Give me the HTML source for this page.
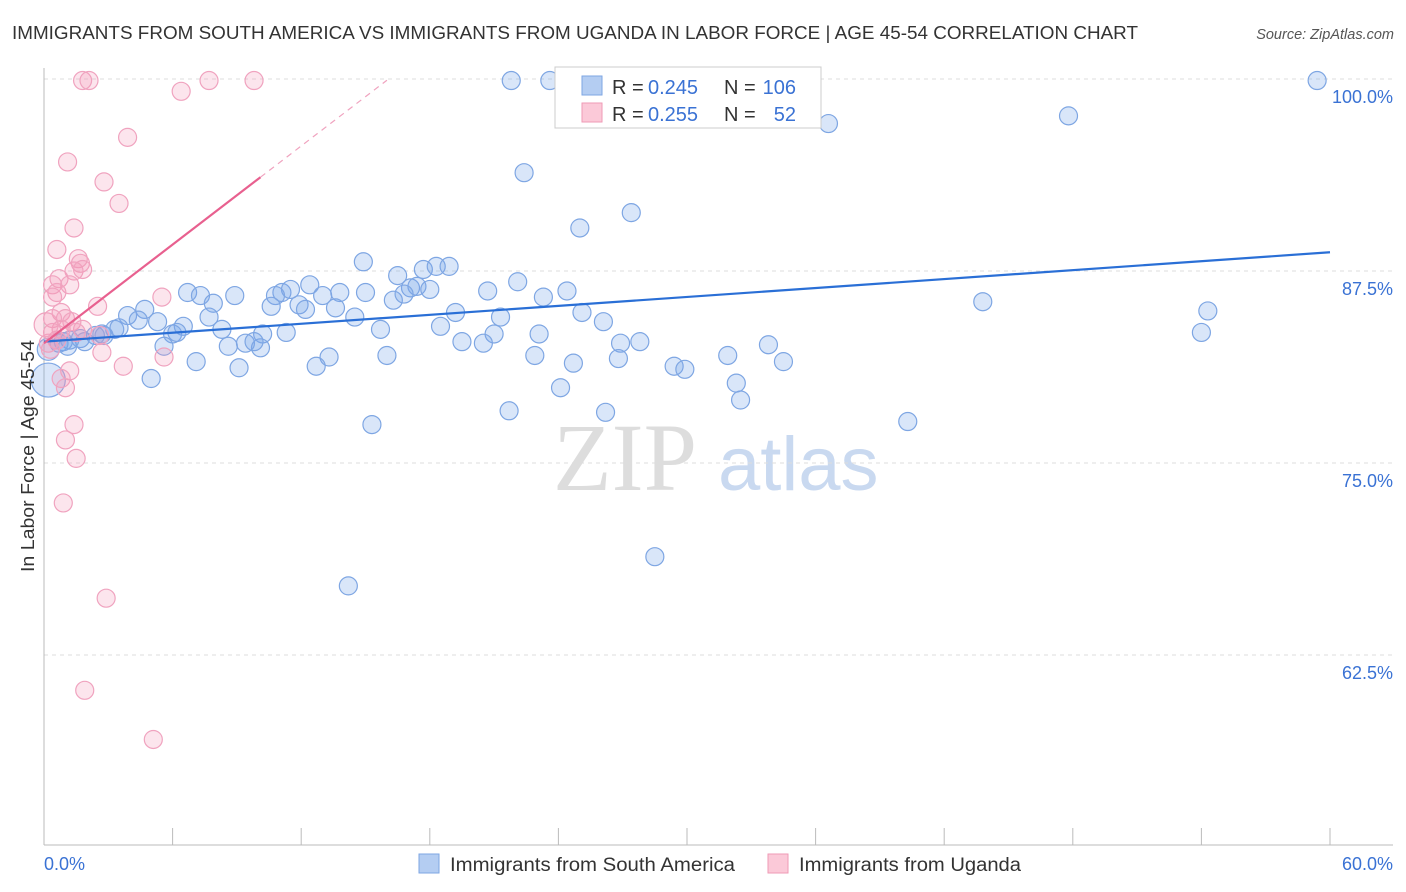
<!DOCTYPE html>
<html><head><meta charset="utf-8"><style>
body{margin:0;background:#fff;font-family:"Liberation Sans",sans-serif;}
svg{display:block}
</style></head><body>
<svg id="chart" width="1406" height="892" xmlns="http://www.w3.org/2000/svg">
<text x="12" y="39" font-size="18" fill="#333" textLength="1126" lengthAdjust="spacingAndGlyphs">IMMIGRANTS FROM SOUTH AMERICA VS IMMIGRANTS FROM UGANDA IN LABOR FORCE | AGE 45-54 CORRELATION CHART</text>
<text x="1394" y="39" font-size="14.5" font-style="italic" fill="#555" text-anchor="end">Source: ZipAtlas.com</text>
<g>
<text x="553" y="490" font-size="96" font-family="Liberation Serif, serif" fill="#ddd">ZIP</text>
<text x="718" y="490" font-size="76" fill="#c9d9f0">atlas</text>
</g>
<g id="grid"></g>
<g id="axes"></g>
<g id="marks"></g>
<text transform="translate(34,456) rotate(-90)" font-size="18" fill="#333" text-anchor="middle" textLength="232" lengthAdjust="spacingAndGlyphs">In Labor Force | Age 45-54</text>
<g>
<rect x="555" y="67" width="266" height="61" fill="#fff" stroke="#ccc"/>
<g>
<rect x="582" y="76" width="20" height="19" fill="#b4cdf2" stroke="#7ea6e3"/>
<text x="612" y="94" font-size="20" fill="#333">R =</text>
<text x="648" y="94" font-size="20" fill="#3a72d4">0.245</text>
<text x="724" y="94" font-size="20" fill="#333">N =</text>
<text x="796" y="94" font-size="20" fill="#3a72d4" text-anchor="end">106</text>
</g>
<g>
<rect x="582" y="103" width="20" height="19" fill="#fbc9d8" stroke="#ef9ab6"/>
<text x="612" y="121" font-size="20" fill="#333">R =</text>
<text x="648" y="121" font-size="20" fill="#3a72d4">0.255</text>
<text x="724" y="121" font-size="20" fill="#333">N =</text>
<text x="796" y="121" font-size="20" fill="#3a72d4" text-anchor="end">52</text>
</g>
</g>
<g>
<rect x="419" y="854" width="20" height="19" fill="#b4cdf2" stroke="#7ea6e3"/>
<text x="450" y="871" font-size="19" fill="#333" textLength="285" lengthAdjust="spacingAndGlyphs">Immigrants from South America</text>
<rect x="768" y="854" width="20" height="19" fill="#fbc9d8" stroke="#ef9ab6"/>
<text x="799" y="871" font-size="19" fill="#333" textLength="222" lengthAdjust="spacingAndGlyphs">Immigrants from Uganda</text>
</g>
</svg>
<script>
const blueX=[21.8,23.6,35.3,59.4,36.6,47.8,22.4,27.4,25.0,14.9,17.7,18.3,18.9,16.5,22.1,17.1,17.4,18.0,20.7,24.4,23.3,12.4,11.1,11.5,13.0,13.8,15.0,16.3,16.8,6.7,7.3,8.9,7.9,10.8,11.9,12.2,13.6,10.6,25.1,19.2,21.3,26.1,14.5,7.7,4.7,3.9,4.4,5.3,6.5,6.0,6.2,8.3,10.2,11.3,15.7,18.5,21.0,23.1,19.5,20.5,5.6,8.6,9.4,10.1,9.8,27.8,26.9,33.8,3.3,3.5,2.4,2.8,2.7,1.7,1.2,0.9,0.7,1.1,1.9,13.3,16.0,22.9,24.7,26.8,31.9,34.5,29.4,29.9,12.7,7.1,9.1,5.0,24.1,32.3,32.5,21.7,26.2,15.3,40.3,43.8,54.3,54.0,28.5,14.2,0.2,0.2];
const blueY=[99.9,99.9,99.9,99.9,97.1,97.6,93.9,91.3,90.3,88.1,87.6,87.8,87.8,87.2,86.8,86.4,86.5,86.3,86.2,86.2,85.8,86.6,86.1,86.3,85.9,86.1,86.1,85.6,86.0,86.1,85.9,85.9,85.4,85.9,85.3,85.0,85.1,85.2,84.8,84.8,84.5,84.2,84.5,84.5,85.0,84.6,84.3,84.2,83.9,83.4,83.5,83.7,83.4,83.5,83.7,83.9,83.4,83.4,82.9,82.8,82.6,82.6,82.8,82.5,82.9,82.9,82.8,82.7,83.7,83.8,83.3,83.3,83.4,83.1,83.0,82.9,82.8,82.6,82.9,81.9,82.0,82.0,81.5,81.8,82.0,81.6,81.3,81.1,81.3,81.6,81.2,80.5,79.9,80.2,79.1,78.4,78.3,77.5,77.7,85.5,84.9,83.5,68.9,67.0,80.4,82.4];
const blueR=[9,9,9,9,9,9,9,9,9,9,9,9,9,9,9,9,9,9,9,9,9,9,9,9,9,9,9,9,9,9,9,9,9,9,9,9,9,9,9,9,9,9,9,9,9,9,9,9,9,9,9,9,9,9,9,9,9,9,9,9,9,9,9,9,9,9,9,9,9,9,9,9,9,9,9,9,9,9,9,9,9,9,9,9,9,9,9,9,9,9,9,9,9,9,9,9,9,9,9,9,9,9,9,9,17,11];
const pinkX=[1.8,2.1,7.7,9.8,6.4,3.9,1.1,2.8,3.5,1.4,0.6,1.6,1.7,1.4,1.8,0.7,1.2,0.4,0.6,0.4,2.5,5.5,0.8,1.0,1.3,0.4,0.8,1.8,1.5,0.4,0.6,2.6,0.2,0.3,2.7,5.6,3.7,1.2,0.8,1.0,1.4,1.0,1.5,0.9,2.9,1.9,5.1,0.1];
const pinkY=[99.9,99.9,99.9,99.9,99.2,96.2,94.6,93.3,91.9,90.3,88.9,88.3,88.0,87.5,87.6,87.0,86.6,86.6,86.1,85.8,85.2,85.8,84.8,84.4,84.2,84.4,83.7,83.7,83.5,83.5,83.0,83.3,82.8,82.4,82.2,81.9,81.3,81.0,80.5,79.9,77.5,76.5,75.3,72.4,66.2,60.2,57.0,84.0];
const pinkR=[9,9,9,9,9,9,9,9,9,9,9,9,9,9,9,9,9,9,9,9,9,9,9,9,9,9,9,9,9,9,9,9,9,9,9,9,9,9,9,9,9,9,9,9,9,9,9,12];
const yTicks=[100,87.5,75,62.5];
const yTickLabels=["100.0%","87.5%","75.0%","62.5%"];
const xTickVals=[0,6,12,18,24,30,36,42,48,54,60];
const xLabels=["0.0%","60.0%"];
const blueTrend=[82.9,0.097];
const pinkTrend=[82.8,1.07,10.1,16.0];

const NS="http://www.w3.org/2000/svg";
const sx=v=>44+v/60*1286;
const sy=v=>79+(100-v)/12.5*192;
function mk(parent,tag,attrs){const e=document.createElementNS(NS,tag);for(const k in attrs)e.setAttribute(k,attrs[k]);document.getElementById(parent).appendChild(e);return e;}

yTicks.forEach((t,i)=>{
  const l=mk('grid','line',{x1:44,x2:1393,y1:sy(t),y2:sy(t),stroke:'#ddd','stroke-dasharray':'4,4'});
  
  
  const tx=mk('grid','text',{x:1393,y:sy(t)+24,'font-size':18,fill:'#3a72d4','text-anchor':'end'});
  tx.textContent=yTickLabels[i];
  
  
});
let a=mk('axes','line',{x1:44,x2:44,y1:68,y2:845,stroke:'#bbb'});


a=mk('axes','line',{x1:44,x2:1393,y1:845,y2:845,stroke:'#bbb'});


xTickVals.forEach(v=>{
  const t=mk('axes','line',{x1:sx(v),x2:sx(v),y1:828,y2:845,stroke:'#bbb'});
  
  
});
let xl=mk('axes','text',{x:44,y:870,'font-size':18,fill:'#3a72d4'});xl.textContent=xLabels[0];


xl=mk('axes','text',{x:1393,y:870,'font-size':18,fill:'#3a72d4','text-anchor':'end'});xl.textContent=xLabels[1];



blueX.forEach((x,i)=>{
  const c=mk('marks','circle',{cx:sx(x),cy:sy(blueY[i]),r:blueR[i],fill:'rgba(120,165,235,0.28)',stroke:'#7ea6e3','stroke-width':1.2});
  
  
});
pinkX.forEach((x,i)=>{
  const c=mk('marks','circle',{cx:sx(x),cy:sy(pinkY[i]),r:pinkR[i],fill:'rgba(245,150,185,0.25)',stroke:'#f0a3bf','stroke-width':1.2});
  
  
});
let tl=mk('marks','line',{x1:sx(0),y1:sy(blueTrend[0]),x2:sx(60),y2:sy(blueTrend[0]+60*blueTrend[1]),stroke:'#2a6fd6','stroke-width':2.2});


tl=mk('marks','line',{x1:sx(0),y1:sy(pinkTrend[0]),x2:sx(pinkTrend[2]),y2:sy(pinkTrend[0]+pinkTrend[1]*pinkTrend[2]),stroke:'#e8608f','stroke-width':2.2});


tl=mk('marks','line',{x1:sx(pinkTrend[2]),y1:sy(pinkTrend[0]+pinkTrend[1]*pinkTrend[2]),x2:sx(pinkTrend[3]),y2:sy(Math.min(100.6,pinkTrend[0]+pinkTrend[1]*pinkTrend[3])),stroke:'#f0a3bf','stroke-width':1.2,'stroke-dasharray':'6,5'});


</script>
</body></html>
